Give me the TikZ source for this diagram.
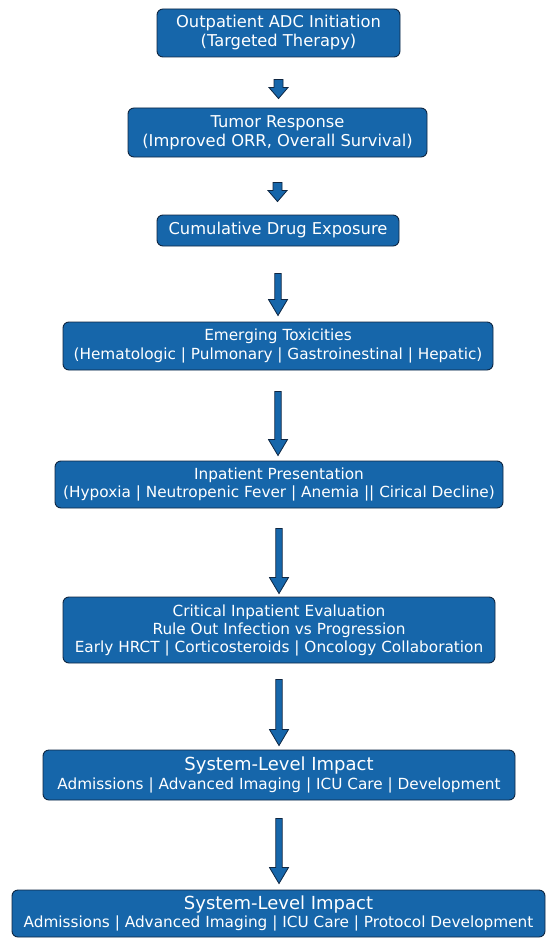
\documentclass[tikz,border=0pt]{standalone}
\usepackage{fontspec}
\setmainfont{DejaVu Sans}
\usetikzlibrary{calc}
\definecolor{boxblue}{RGB}{22,102,170}
\definecolor{boxedge}{RGB}{14,38,66}
\tikzset{
  flowbox/.style={draw=boxedge, line width=0.9pt, fill=boxblue, rounded corners=6pt,
    text=white, align=center, inner sep=0pt, font=\fontsize{15.3}{18.5}\selectfont},
  bigtext/.style={font=\fontsize{16.3}{19}\selectfont},
  fatarrow/.style={draw=boxedge, line width=0.8pt, fill=boxblue, line join=miter},
}
% #1 source node, #2 target node, #3 start gap, #4 end gap, #5 shaft half width, #6 head length
\newcommand\flowarrow[6]{%
  \path ($(#1.south)+(0,#3)$) coordinate (fa-s);
  \path (fa-s |- #2.north) coordinate (fa-t0);
  \path ($(fa-t0)+(0,-#4)$) coordinate (fa-t);
  \path ($(fa-t)+(0,-#6)$) coordinate (fa-h);
  \draw[fatarrow] ($(fa-s)+(-#5,0)$) -- ($(fa-s)+(#5,0)$) -- ($(fa-h)+(#5,0)$) -- ($(fa-h)+(9.5,0)$)
    -- (fa-t) -- ($(fa-h)+(-9.5,0)$) -- ($(fa-h)+(-#5,0)$) -- cycle;
}
\begin{document}
\begin{tikzpicture}[x=1pt,y=-1pt]
\useasboundingbox (0,0) rectangle (550,947);
\node[flowbox, bigtext, minimum width=243pt, minimum height=48pt] (b1) at (278.5,33)
  {Outpatient ADC Initiation\\(Targeted Therapy)};
\node[flowbox, bigtext, minimum width=299pt, minimum height=49pt] (b2) at (277.5,132.5)
  {Tumor Response\\(Improved ORR, Overall Survival)};
\node[flowbox, bigtext, minimum width=242pt, minimum height=31pt] (b3) at (278,230.5)
  {Cumulative Drug Exposure};
\node[flowbox, minimum width=430pt, minimum height=48pt] (b4) at (278,346)
  {Emerging Toxicities\\(Hematologic | Pulmonary | Gastroinestinal | Hepatic)};
\node[flowbox, minimum width=448pt, minimum height=47pt] (b5) at (279,484.5)
  {Inpatient Presentation\\(Hypoxia | Neutropenic Fever | Anemia || Cirical Decline)};
\node[flowbox, minimum width=432pt, minimum height=66pt, font=\fontsize{15.3}{18}\selectfont] (b6) at (279,630)
  {Critical Inpatient Evaluation\\Rule Out Infection vs Progression\\Early HRCT | Corticosteroids | Oncology Collaboration};
\node[flowbox, minimum width=472pt, minimum height=50pt] (b7) at (279,775)
  {{\fontsize{18}{20}\selectfont System-Level Impact}\\Admissions | Advanced Imaging | ICU Care | Development};
\node[flowbox, minimum width=533pt, minimum height=47pt] (b8) at (278.5,913.5)
  {{\fontsize{18}{20}\selectfont System-Level Impact}\\Admissions | Advanced Imaging | ICU Care | Protocol Development};
\flowarrow{b1}{b2}{22}{9}{4.5}{11}
\flowarrow{b2}{b3}{25}{13}{4.5}{11}
\flowarrow{b3}{b4}{27}{6}{3.2}{16}
\flowarrow{b4}{b5}{21}{5}{3.2}{16}
\flowarrow{b5}{b6}{20}{3}{3.2}{16}
\flowarrow{b6}{b7}{16}{4}{3.2}{16}
\flowarrow{b7}{b8}{18}{6}{3.2}{16}
\end{tikzpicture}
\end{document}
